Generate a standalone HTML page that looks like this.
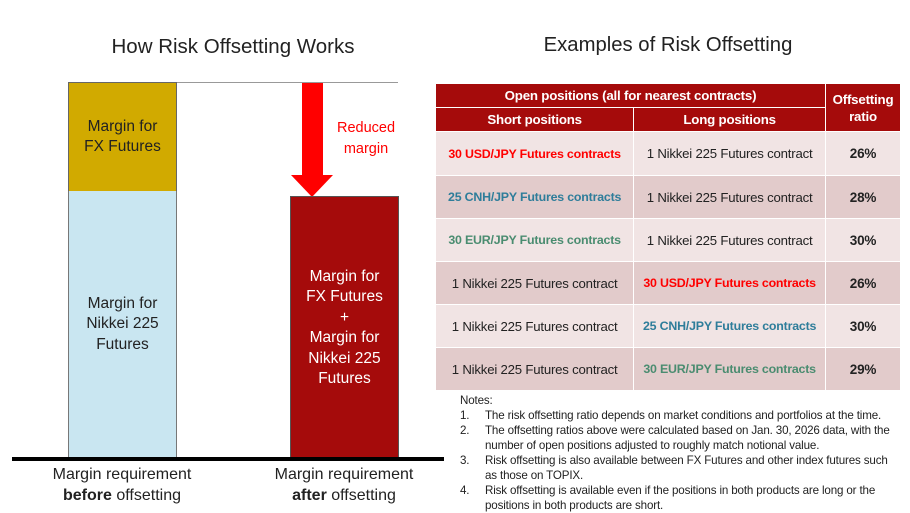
<!DOCTYPE html>
<html><head><meta charset="utf-8"><style>
body{margin:0;width:910px;height:512px;background:#fff;position:relative;overflow:hidden;font-family:"Liberation Sans",sans-serif;color:#222}
.a{position:absolute}
.c{display:flex;align-items:center;justify-content:center;text-align:center}
table{position:absolute;left:435px;top:83px;width:466px;border-collapse:collapse;font-size:13.2px}
td{border:1.5px solid #fff;text-align:center;padding:0;letter-spacing:-0.2px;white-space:nowrap}
.h td{background:#a50b0b;color:#fff;font-weight:bold;font-size:13.3px}
.l td{background:#f1e4e4}
.d td{background:#e2cbcb}
.r{color:#f00;font-weight:bold;font-size:12.4px}.b{color:#2e7d9a;font-weight:bold;font-size:12.4px}.g{color:#4a8c70;font-weight:bold;font-size:12.4px}
td.p{font-weight:bold;font-size:13.5px}
</style></head><body>
<div class="a" style="left:0;width:466px;top:35px;text-align:center;font-size:20.5px">How Risk Offsetting Works</div>
<div class="a" style="left:435px;width:466px;top:34px;text-align:center;font-size:20.3px">Examples of Risk Offsetting</div>
<div class="a" style="left:176px;top:82px;width:222px;height:1px;background:#999"></div>
<div class="a c" style="left:68px;top:82px;width:107px;height:108px;background:#d1aa00;border:1px solid #666;font-size:15.5px;line-height:20px">Margin for<br>FX Futures</div>
<div class="a c" style="left:68px;top:191px;width:107px;height:267px;background:#c9e6f1;border:1px solid #777;border-top:none;font-size:15.5px;line-height:20.5px">Margin for<br>Nikkei 225<br>Futures</div>
<div class="a" style="left:302px;top:83px;width:21px;height:93px;background:#f00"></div>
<div class="a" style="left:291px;top:175px;width:0;height:0;border-left:21.5px solid transparent;border-right:21.5px solid transparent;border-top:22px solid #f00"></div>
<div class="a" style="left:328px;top:118px;width:76px;text-align:center;color:#f00;font-size:14.5px;line-height:21px">Reduced<br>margin</div>
<div class="a c" style="left:290px;top:196px;width:107px;height:262px;background:#a50b0b;border:1px solid #555;color:#fff;font-size:15.5px;line-height:20.5px">Margin for<br>FX Futures<br>+<br>Margin for<br>Nikkei 225<br>Futures</div>
<div class="a" style="left:12px;top:457px;width:432px;height:4px;background:#000"></div>
<div class="a" style="left:12px;width:220px;top:464px;text-align:center;font-size:16px;line-height:21px">Margin requirement<br><b>before</b> offsetting</div>
<div class="a" style="left:234px;width:220px;top:464px;text-align:center;font-size:16px;line-height:21px">Margin requirement<br><b>after</b> offsetting</div>
<table>
<tr class="h" style="height:24px"><td colspan="2">Open positions (all for nearest contracts)</td><td rowspan="2" style="width:75px;line-height:17px">Offsetting<br>ratio</td></tr>
<tr class="h" style="height:24px"><td style="width:199px">Short positions</td><td style="width:192px">Long positions</td></tr>
<tr class="l" style="height:44px"><td class="r">30 USD/JPY Futures contracts</td><td>1 Nikkei 225 Futures contract</td><td class="p">26%</td></tr>
<tr class="d" style="height:43px"><td class="b">25 CNH/JPY Futures contracts</td><td>1 Nikkei 225 Futures contract</td><td class="p">28%</td></tr>
<tr class="l" style="height:43px"><td class="g">30 EUR/JPY Futures contracts</td><td>1 Nikkei 225 Futures contract</td><td class="p">30%</td></tr>
<tr class="d" style="height:43px"><td>1 Nikkei 225 Futures contract</td><td class="r">30 USD/JPY Futures contracts</td><td class="p">26%</td></tr>
<tr class="l" style="height:43px"><td>1 Nikkei 225 Futures contract</td><td class="b">25 CNH/JPY Futures contracts</td><td class="p">30%</td></tr>
<tr class="d" style="height:43px"><td>1 Nikkei 225 Futures contract</td><td class="g">30 EUR/JPY Futures contracts</td><td class="p">29%</td></tr>
</table>
<div class="a" style="left:460px;top:393px;width:450px;font-size:11.6px;line-height:15px;letter-spacing:-0.15px">
Notes:<br>
<div style="display:flex"><span style="width:25px;flex:none">1.</span><span style="white-space:nowrap">The risk offsetting ratio depends on market conditions and portfolios at the time.</span></div>
<div style="display:flex"><span style="width:25px;flex:none">2.</span><span style="white-space:nowrap">The offsetting ratios above were calculated based on Jan. 30, 2026 data, with the<br>number of open positions adjusted to roughly match notional value.</span></div>
<div style="display:flex"><span style="width:25px;flex:none">3.</span><span style="white-space:nowrap">Risk offsetting is also available between FX Futures and other index futures such<br>as those on TOPIX.</span></div>
<div style="display:flex"><span style="width:25px;flex:none">4.</span><span style="white-space:nowrap">Risk offsetting is available even if the positions in both products are long or the<br>positions in both products are short.</span></div>
</div>
</body></html>
